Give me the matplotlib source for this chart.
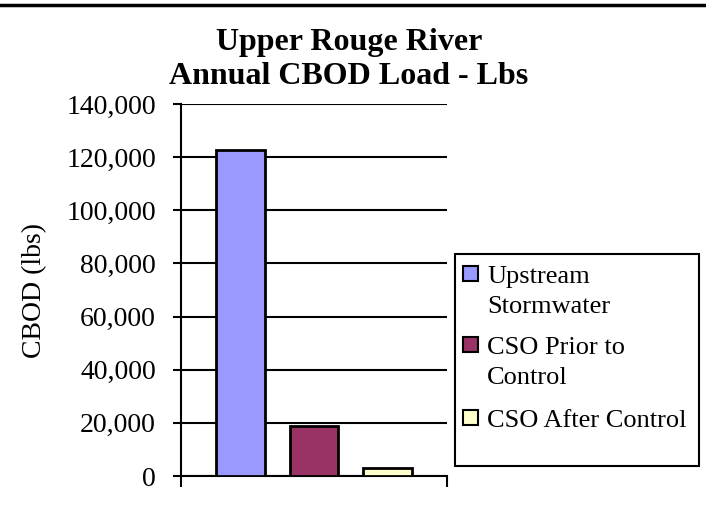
import matplotlib
matplotlib.use("Agg")
import matplotlib.pyplot as plt
from matplotlib.lines import Line2D
from matplotlib.patches import Rectangle
from matplotlib.ticker import FuncFormatter

series = ["Upstream\nStormwater", "CSO Prior to\nControl", "CSO After Control"]
values = [122700, 18800, 3000]
colors = ["#9999FF", "#993366", "#FFFFCC"]
yticks = [0, 20000, 40000, 60000, 80000, 100000, 120000, 140000]

plt.rcParams['font.family'] = ['Liberation Serif', 'DejaVu Serif']

W, H = 706, 527
fig = plt.figure(figsize=(W / 100, H / 100), dpi=100)
ax = fig.add_axes([181 / W, 1 - 476 / H, (447 - 181) / W, (476 - 104) / H])

for i, (v, c, s) in enumerate(zip(values, colors, series)):
    ax.bar(i, v, width=0.67, color=c, edgecolor='black', linewidth=2, label=s, zorder=3)

ax.set_xlim(-0.82, 2.82)
ax.set_ylim(0, 140000)
ax.set_yticks(yticks)
ax.yaxis.set_major_formatter(FuncFormatter(lambda v, p: f"{int(v):,}"))
ax.tick_params(axis='y', labelsize=20, length=6, width=1.5, direction='out', pad=12)
ax.set_xticks([-0.82, 2.82])
ax.set_xticklabels([])
ax.tick_params(axis='x', length=8, width=1.5, direction='out')
ax.grid(axis='y', color='black', linewidth=1.5, zorder=0)
for side in ['top', 'right']:
    ax.spines[side].set_visible(False)
ax.spines['left'].set_linewidth(1.5)
ax.spines['bottom'].set_linewidth(1.5)

fig.text(35 / W, 1 - 291 / H, "CBOD (lbs)", rotation=90, fontsize=20, ha='center', va='center')

fig.text(349 / W, 1 - 50 / H, "Upper Rouge River", fontsize=23, fontweight='bold', ha='center', va='baseline')
fig.text(349 / W, 1 - 84 / H, "Annual CBOD Load - Lbs", fontsize=23, fontweight='bold', ha='center', va='baseline')

fig.add_artist(Line2D([0, 1], [1 - 5 / H, 1 - 5 / H], color='black', linewidth=2.5, transform=fig.transFigure))

# legend (drawn manually to match the original box layout)
fig.add_artist(Rectangle((455 / W, 1 - 466 / H), (699 - 455) / W, (466 - 254) / H,
                         transform=fig.transFigure, facecolor='white', edgecolor='black', linewidth=1.5))
entry_tops = [266, 337, 410]
for top, c, s in zip(entry_tops, colors, series):
    fig.add_artist(Rectangle((463 / W, 1 - (top + 15) / H), 15 / W, 15 / H, transform=fig.transFigure,
                             facecolor=c, edgecolor='black', linewidth=1.5))
    for k, line in enumerate(s.split("\n")):
        fig.text(487 / W, 1 - (top + 17 + 30 * k) / H, line, fontsize=19, ha='left', va='baseline')

fig.savefig("out.png", dpi=100)
